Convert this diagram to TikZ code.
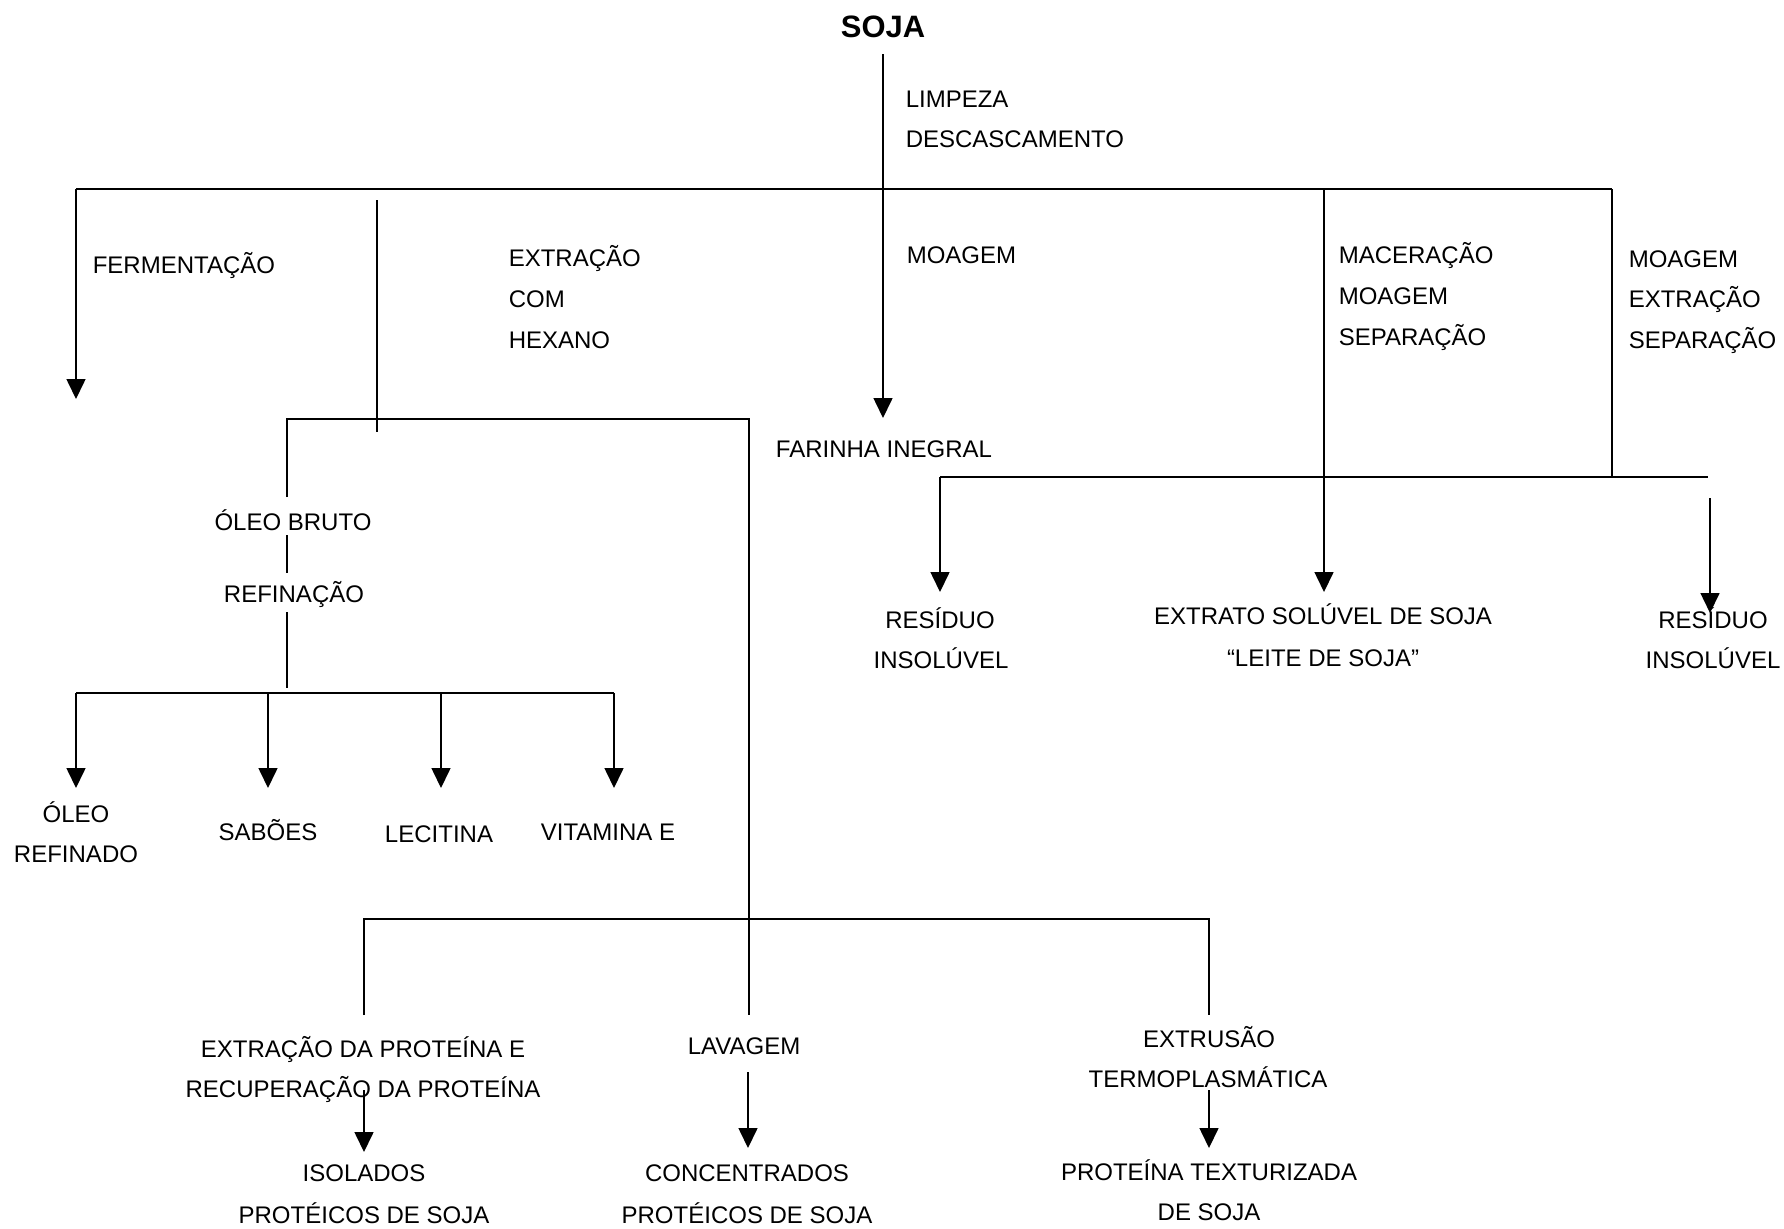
\documentclass[tikz,border=0pt]{standalone}
\usepackage{fontspec}
\setmainfont{Liberation Sans}
\usetikzlibrary{arrows.meta}
\begin{document}
\begin{tikzpicture}[x=0.02cm,y=-0.02cm, line width=0.9pt,
  txt/.style={inner sep=0pt, font=\fontsize{13.66}{16}\selectfont},
  lt/.style={txt, anchor=base west},
  ct/.style={txt, anchor=base},
  arr/.style={-{Triangle[length=0.4cm,width=0.38cm]}}]
\useasboundingbox (0,0) rectangle (1784,1228);

% ---------- texts ----------
\node[inner sep=0pt, anchor=base, font=\bfseries\fontsize{17.6}{20}\selectfont] (soja) at (883,37) {SOJA};
\node[lt] (limp) at (905,107) {LIMPEZA};
\node[lt] (desc) at (905,147) {DESCASCAMENTO};
\node[lt] (ferm) at (92,273) {FERMENTAÇÃO};
\node[lt] (ext1) at (508,266) {EXTRAÇÃO};
\node[lt] (ext2) at (508,307) {COM};
\node[lt] (ext3) at (508,348) {HEXANO};
\node[lt] (moag) at (906,263) {MOAGEM};
\node[lt] (mac1) at (1338,263) {MACERAÇÃO};
\node[lt] (mac2) at (1338,304) {MOAGEM};
\node[lt] (mac3) at (1338,345) {SEPARAÇÃO};
\node[lt] (mo1) at (1628,267) {MOAGEM};
\node[lt] (mo2) at (1628,307) {EXTRAÇÃO};
\node[lt] (mo3) at (1628,348) {SEPARAÇÃO};
\node[ct] (farinha) at (884,457) {FARINHA INEGRAL};
\node[ct] (oleob) at (293,530) {ÓLEO BRUTO};
\node[ct] (refin) at (294,602) {REFINAÇÃO};
\node[ct] (oleo1) at (76,822) {ÓLEO};
\node[ct] (oleo2) at (76,862) {REFINADO};
\node[ct] (saboes) at (268,840) {SABÕES};
\node[ct] (lecit) at (439,842) {LECITINA};
\node[ct] (vitam) at (608,840) {VITAMINA E};
\node[ct] (res1a) at (940,628) {RESÍDUO};
\node[ct] (res1b) at (941,668) {INSOLÚVEL};
\node[ct] (extra) at (1323,624) {EXTRATO SOLÚVEL DE SOJA};
\node[ct] (leite) at (1323,666) {“LEITE DE SOJA”};
\node[ct] (res2a) at (1713,628) {RESÍDUO};
\node[ct] (res2b) at (1713,668) {INSOLÚVEL};
\node[ct] (epa) at (363,1057) {EXTRAÇÃO DA PROTEÍNA E};
\node[ct] (epb) at (363,1097) {RECUPERAÇÃO DA PROTEÍNA};
\node[ct] (lav) at (744,1054) {LAVAGEM};
\node[ct] (extr1) at (1209,1047) {EXTRUSÃO};
\node[ct] (extr2) at (1208,1087) {TERMOPLASMÁTICA};
\node[ct] (iso1) at (364,1181) {ISOLADOS};
\node[ct] (iso2) at (364,1223) {PROTÉICOS DE SOJA};
\node[ct] (con1) at (747,1181) {CONCENTRADOS};
\node[ct] (con2) at (747,1223) {PROTÉICOS DE SOJA};
\node[ct] (pt1) at (1209,1180) {PROTEÍNA TEXTURIZADA};
\node[ct] (pt2) at (1209,1220) {DE SOJA};

% ---------- coordinates ----------
\coordinate (s0) at (883,54);
\coordinate (fTip) at (883,418);
\coordinate (hL) at (76,189);
\coordinate (hR) at (1612,189);
\coordinate (fermTip) at (76,399);
\coordinate (ex0) at (377,200);
\coordinate (ex1) at (377,432);
\coordinate (bL) at (287,419);
\coordinate (bR) at (749,419);
\coordinate (ob0) at (287,497);
\coordinate (ob1) at (287,535);
\coordinate (ob2) at (287,573);
\coordinate (rf0) at (287,612);
\coordinate (rf1) at (287,688);
\coordinate (oL) at (76,693);
\coordinate (oR) at (614,693);
\coordinate (o2) at (268,693);
\coordinate (o3) at (441,693);
\coordinate (oT1) at (76,788);
\coordinate (oT2) at (268,788);
\coordinate (oT3) at (441,788);
\coordinate (oT4) at (614,788);
\coordinate (pM) at (749,919);
\coordinate (pMb) at (749,1015);
\coordinate (pL) at (364,919);
\coordinate (pR) at (1209,919);
\coordinate (pLb) at (364,1015);
\coordinate (pRb) at (1209,1015);
\coordinate (aL0) at (364,1090);
\coordinate (aL1) at (364,1152);
\coordinate (aM0) at (748,1072);
\coordinate (aM1) at (748,1148);
\coordinate (aR0) at (1209,1090);
\coordinate (aR1) at (1209,1148);
\coordinate (m0) at (1324,189);
\coordinate (mTip) at (1324,592);
\coordinate (r0) at (1612,477);
\coordinate (hhL) at (940,477);
\coordinate (hhR) at (1708,477);
\coordinate (lTip) at (940,592);
\coordinate (rr0) at (1710,498);
\coordinate (rrTip) at (1710,613);

% ---------- lines ----------
\draw[arr] (s0) -- (fTip);
\draw (hL) -- (hR);
\draw[arr] (hL) -- (fermTip);
\draw (ex0) -- (ex1);
\draw (ob0) -- (bL) -- (bR) -- (pMb);
\draw (ob1) -- (ob2);
\draw (rf0) -- (rf1);
\draw (oL) -- (oR);
\draw[arr] (oL) -- (oT1);
\draw[arr] (o2) -- (oT2);
\draw[arr] (o3) -- (oT3);
\draw[arr] (oR) -- (oT4);
\draw (pLb) -- (pL) -- (pR) -- (pRb);
\draw[arr] (aL0) -- (aL1);
\draw[arr] (aM0) -- (aM1);
\draw[arr] (aR0) -- (aR1);
\draw[arr] (m0) -- (mTip);
\draw (hR) -- (r0);
\draw (hhL) -- (hhR);
\draw[arr] (hhL) -- (lTip);
\draw[arr] (rr0) -- (rrTip);
\end{tikzpicture}
\end{document}
